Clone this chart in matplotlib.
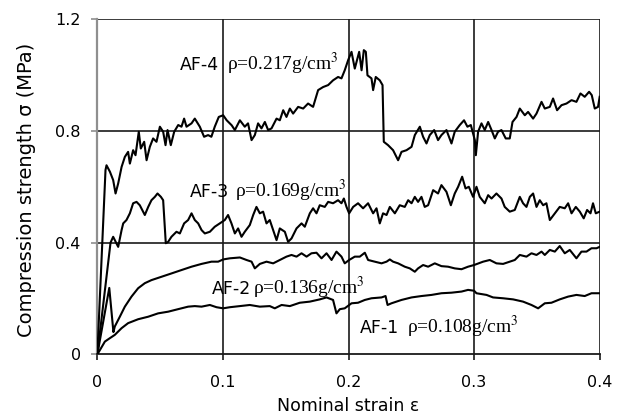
import matplotlib
matplotlib.use("Agg")
import matplotlib.pyplot as plt

plt.rcParams['font.family'] = 'DejaVu Sans'
plt.rcParams['mathtext.fontset'] = 'stix'

# stress-strain curves (strain, MPa)
af4_strain = [0, 0.0065, 0.0073, 0.010, 0.0126, 0.0145, 0.0166, 0.0193, 0.0219, 0.0245,
              0.0259, 0.0285, 0.0304, 0.033, 0.0346, 0.0373, 0.0392, 0.0418, 0.0444, 0.0471,
              0.0498, 0.0524, 0.0543, 0.0559, 0.0585, 0.0612, 0.0644, 0.067, 0.0691, 0.071,
              0.075, 0.0776, 0.0816, 0.085, 0.0882, 0.0908, 0.0935, 0.0967, 0.1002, 0.103,
              0.107, 0.1095, 0.1135, 0.1174, 0.12, 0.1228, 0.1254, 0.128, 0.1307, 0.1334,
              0.136, 0.1387, 0.1427, 0.1453, 0.148, 0.1506, 0.1533, 0.1559, 0.1599, 0.1639,
              0.1678, 0.1718, 0.1758, 0.1798, 0.1838, 0.1877, 0.1917, 0.1944, 0.197, 0.1997,
              0.2024, 0.205, 0.2085, 0.2104, 0.2122, 0.2138, 0.2151, 0.2183, 0.2196, 0.2217,
              0.2249, 0.2271, 0.2281, 0.2315, 0.2355, 0.2395, 0.2422, 0.2462, 0.2502, 0.2528,
              0.2568, 0.2594, 0.2621, 0.2647, 0.2682, 0.2713, 0.274, 0.278, 0.282, 0.2846,
              0.2886, 0.292, 0.2947, 0.2974, 0.3006, 0.3014, 0.3032, 0.3059, 0.3085, 0.3112,
              0.3139, 0.3165, 0.3191, 0.3218, 0.3252, 0.3284, 0.3306, 0.3338, 0.3364, 0.3404,
              0.343, 0.347, 0.3497, 0.3537, 0.3563, 0.3603, 0.3629, 0.3661, 0.3696, 0.3736,
              0.3776, 0.3815, 0.3847, 0.3881, 0.3916, 0.3937, 0.3961, 0.3987, 0.4]
af4_stress = [0, 0.66, 0.677, 0.654, 0.624, 0.576, 0.612, 0.671, 0.707, 0.725,
              0.683, 0.731, 0.713, 0.797, 0.737, 0.761, 0.695, 0.743, 0.773, 0.761,
              0.815, 0.797, 0.749, 0.803, 0.749, 0.797, 0.821, 0.815, 0.844, 0.815,
              0.827, 0.844, 0.815, 0.779, 0.785, 0.779, 0.815, 0.85, 0.856, 0.838,
              0.82, 0.803, 0.838, 0.815, 0.827, 0.767, 0.785, 0.827, 0.809, 0.832,
              0.803, 0.809, 0.844, 0.838, 0.874, 0.85, 0.88, 0.862, 0.886, 0.88,
              0.898, 0.886, 0.946, 0.957, 0.964, 0.981, 0.993, 0.988, 1.017, 1.053,
              1.083, 1.023, 1.083, 1.017, 1.089, 1.083, 0.999, 0.988, 0.946, 0.993,
              0.981, 0.964, 0.761, 0.749, 0.731, 0.695, 0.725, 0.731, 0.743, 0.785,
              0.815, 0.779, 0.755, 0.785, 0.803, 0.767, 0.785, 0.803, 0.755, 0.797,
              0.821, 0.838, 0.815, 0.821, 0.767, 0.713, 0.797, 0.827, 0.803, 0.832,
              0.803, 0.773, 0.797, 0.803, 0.773, 0.773, 0.832, 0.85, 0.88, 0.856,
              0.868, 0.844, 0.862, 0.904, 0.88, 0.886, 0.916, 0.874, 0.892, 0.898,
              0.91, 0.904, 0.934, 0.922, 0.94, 0.928, 0.88, 0.886, 0.922]

af3_strain = [0, 0.0105, 0.0126, 0.0166, 0.0193, 0.0206, 0.0232, 0.0259, 0.0285, 0.0312,
              0.0338, 0.0378, 0.0405, 0.0431, 0.0458, 0.0479, 0.0506, 0.0524, 0.0537, 0.0545,
              0.0564, 0.059, 0.063, 0.0657, 0.0691, 0.0723, 0.075, 0.0776, 0.0803, 0.083,
              0.0856, 0.0896, 0.0935, 0.0975, 0.1015, 0.1041, 0.1068, 0.1095, 0.1121, 0.1148,
              0.1174, 0.1214, 0.1241, 0.1267, 0.1294, 0.132, 0.1347, 0.1373, 0.14, 0.1427,
              0.1453, 0.1493, 0.1519, 0.1546, 0.1586, 0.1626, 0.1652, 0.1692, 0.1718, 0.1745,
              0.1771, 0.1811, 0.1838, 0.1877, 0.1917, 0.1944, 0.1963, 0.1984, 0.2005, 0.2037,
              0.2076, 0.2116, 0.2156, 0.2196, 0.2223, 0.2249, 0.2275, 0.2303, 0.2329, 0.2369,
              0.2408, 0.2448, 0.2475, 0.2502, 0.2528, 0.2554, 0.2581, 0.2607, 0.2634, 0.2674,
              0.2713, 0.274, 0.278, 0.2815, 0.2846, 0.2873, 0.2905, 0.2932, 0.2958, 0.2992,
              0.3019, 0.3045, 0.3085, 0.3112, 0.3139, 0.3178, 0.3218, 0.3244, 0.3284, 0.3324,
              0.3364, 0.339, 0.3417, 0.3444, 0.347, 0.3497, 0.3523, 0.355, 0.3576, 0.3603,
              0.3643, 0.3682, 0.3722, 0.3749, 0.3776, 0.381, 0.3842, 0.3873, 0.39, 0.3927,
              0.3947, 0.3969, 0.4]
af3_stress = [0, 0.40, 0.421, 0.385, 0.445, 0.469, 0.481, 0.505, 0.541, 0.546,
              0.534, 0.499, 0.528, 0.552, 0.564, 0.576, 0.564, 0.552, 0.457, 0.398,
              0.403, 0.421, 0.439, 0.433, 0.469, 0.481, 0.505, 0.481, 0.469, 0.445,
              0.433, 0.439, 0.457, 0.469, 0.481, 0.499, 0.469, 0.433, 0.451, 0.421,
              0.439, 0.463, 0.499, 0.528, 0.505, 0.511, 0.469, 0.481, 0.445, 0.409,
              0.451, 0.439, 0.403, 0.415, 0.451, 0.469, 0.457, 0.505, 0.523, 0.505,
              0.534, 0.528, 0.546, 0.541, 0.552, 0.541, 0.558, 0.528, 0.505, 0.528,
              0.541, 0.523, 0.541, 0.505, 0.523, 0.469, 0.505, 0.499, 0.528, 0.505,
              0.534, 0.528, 0.552, 0.541, 0.564, 0.546, 0.564, 0.528, 0.534, 0.588,
              0.576, 0.606, 0.582, 0.534, 0.576, 0.6, 0.636, 0.594, 0.6, 0.564,
              0.6, 0.564, 0.541, 0.57, 0.558, 0.576, 0.558, 0.528, 0.511, 0.517,
              0.564, 0.541, 0.528, 0.564, 0.576, 0.528, 0.552, 0.534, 0.541, 0.481,
              0.505, 0.528, 0.523, 0.541, 0.505, 0.528, 0.511, 0.487, 0.517, 0.505,
              0.541, 0.505, 0.511]

af2_strain = [0, 0.0095, 0.0128, 0.0139, 0.0179, 0.0219, 0.0272, 0.0325, 0.0378, 0.0431,
              0.0511, 0.0591, 0.067, 0.075, 0.083, 0.0909, 0.0962, 0.1002, 0.1055, 0.1135,
              0.1188, 0.1228, 0.1254, 0.1294, 0.1347, 0.14, 0.1453, 0.1506, 0.1546, 0.1586,
              0.1626, 0.1666, 0.1705, 0.1745, 0.1785, 0.1825, 0.1865, 0.1904, 0.1944, 0.197,
              0.2005, 0.205, 0.209, 0.213, 0.2156, 0.2209, 0.2263, 0.2303, 0.2329, 0.2355,
              0.2395, 0.2448, 0.2488, 0.2528, 0.2554, 0.2594, 0.2634, 0.2687, 0.274, 0.2793,
              0.2846, 0.29, 0.2952, 0.3, 0.3072, 0.3125, 0.3178, 0.3231, 0.3284, 0.3324,
              0.3364, 0.3417, 0.3457, 0.3497, 0.3537, 0.3563, 0.3603, 0.3643, 0.3682, 0.3722,
              0.3762, 0.3815, 0.3855, 0.3895, 0.3935, 0.3975, 0.4]
af2_stress = [0, 0.238, 0.08, 0.1, 0.135, 0.171, 0.207, 0.237, 0.255, 0.266,
              0.278, 0.29, 0.302, 0.314, 0.324, 0.332, 0.332, 0.34, 0.344, 0.347,
              0.338, 0.332, 0.308, 0.324, 0.332, 0.326, 0.338, 0.35, 0.356, 0.35,
              0.362, 0.35, 0.362, 0.364, 0.344, 0.362, 0.338, 0.368, 0.35, 0.326,
              0.338, 0.35, 0.35, 0.364, 0.338, 0.332, 0.326, 0.332, 0.34, 0.332,
              0.326, 0.314, 0.308, 0.296, 0.308, 0.32, 0.314, 0.326, 0.316, 0.314,
              0.308, 0.305, 0.314, 0.32, 0.332, 0.338, 0.326, 0.324, 0.332, 0.338,
              0.356, 0.35, 0.362, 0.356, 0.368, 0.356, 0.374, 0.368, 0.388, 0.362,
              0.374, 0.344, 0.368, 0.368, 0.38, 0.38, 0.385]

af1_strain = [0, 0.006, 0.0099, 0.0139, 0.0193, 0.0245, 0.0325, 0.0405, 0.0484, 0.0564,
              0.0643, 0.0723, 0.0776, 0.083, 0.0896, 0.0949, 0.1002, 0.1055, 0.1135, 0.1214,
              0.1294, 0.1373, 0.1413, 0.1467, 0.1533, 0.1612, 0.1692, 0.1771, 0.1825, 0.1877,
              0.1904, 0.1931, 0.197, 0.2024, 0.2076, 0.213, 0.2183, 0.2263, 0.2295, 0.2311,
              0.2342, 0.2422, 0.2502, 0.2581, 0.2661, 0.274, 0.282, 0.29, 0.2952, 0.3,
              0.3019, 0.3099, 0.3151, 0.3231, 0.3311, 0.339, 0.3457, 0.351, 0.3563, 0.3616,
              0.3682, 0.3749, 0.3815, 0.3881, 0.3935, 0.4]
af1_stress = [0, 0.046, 0.058, 0.07, 0.094, 0.112, 0.126, 0.135, 0.147, 0.153,
              0.162, 0.171, 0.173, 0.171, 0.177, 0.169, 0.165, 0.169, 0.173, 0.177,
              0.171, 0.173, 0.165, 0.177, 0.173, 0.185, 0.189, 0.197, 0.204, 0.195,
              0.147, 0.162, 0.165, 0.183, 0.185, 0.195, 0.201, 0.204, 0.209, 0.177,
              0.183, 0.195, 0.204, 0.209, 0.213, 0.219, 0.221, 0.225, 0.231, 0.228,
              0.219, 0.213, 0.204, 0.201, 0.197, 0.189, 0.177, 0.165, 0.183, 0.185,
              0.197, 0.207, 0.213, 0.209, 0.219, 0.219]

names = ['AF-4', 'AF-3', 'AF-2', 'AF-1']
densities = ['0.217', '0.169', '0.136', '0.108']
xticks = [0, 0.1, 0.2, 0.3, 0.4]
yticks = [0, 0.4, 0.8, 1.2]

fig = plt.figure(figsize=(6.24, 4.16), dpi=100)
ax = fig.add_axes([0.156, 0.148, 0.805, 0.806])

for xs, ys in [(af4_strain, af4_stress), (af3_strain, af3_stress),
               (af2_strain, af2_stress), (af1_strain, af1_stress)]:
    ax.plot(xs, ys, color='black', lw=1.5, zorder=3)

ax.set_xlim(0, 0.4)
ax.set_ylim(0, 1.2)
ax.set_xticks(xticks)
ax.set_xticklabels(['0', '0.1', '0.2', '0.3', '0.4'])
ax.set_yticks(yticks)
ax.set_yticklabels(['0', '0.4', '0.8', '1.2'])

# grid lines, skip the ones on the zero axes
for v in xticks[1:]:
    ax.axvline(v, color='#1a1a1a', lw=1.2, zorder=1)
for v in yticks[1:]:
    ax.axhline(v, color='#1a1a1a', lw=1.2, zorder=1)

for s in ['top', 'right']:
    ax.spines[s].set_visible(False)
ax.spines['left'].set_color('#8f8f8f')
ax.spines['left'].set_linewidth(1.6)
ax.spines['bottom'].set_color('#1a1a1a')
ax.spines['bottom'].set_linewidth(1.3)

ax.tick_params(axis='y', direction='out', length=4, width=1.2, color='#8f8f8f',
               labelsize=11.5, pad=8)
ax.tick_params(axis='x', direction='out', length=4, width=1.2, color='#1a1a1a',
               labelsize=11.5, pad=11)

ax.set_xlabel('Nominal strain ε', fontsize=12.5, va='center')
ax.xaxis.set_label_coords(0.5, -0.1535)
ax.set_ylabel('Compression strength σ (MPa)', fontsize=14, va='center')
ax.yaxis.set_label_coords(-0.142, 0.49)

# curve labels: sans name + serif density
name_x = [0.0657, 0.0736, 0.0909, 0.209]
rho_x = [0.1029, 0.1095, 0.124, 0.2462]
label_y = [1.017, 0.564, 0.216, 0.078]
for n, d, nx, rx, ly in zip(names, densities, name_x, rho_x, label_y):
    ax.text(nx, ly, n, fontsize=12.5, va='baseline', ha='left', zorder=4)
    ax.text(rx, ly, 'ρ=' + d + 'g/cm$^3$', fontsize=14, family='Liberation Serif',
            va='baseline', ha='left', zorder=4)

fig.savefig('out.png', dpi=100)
